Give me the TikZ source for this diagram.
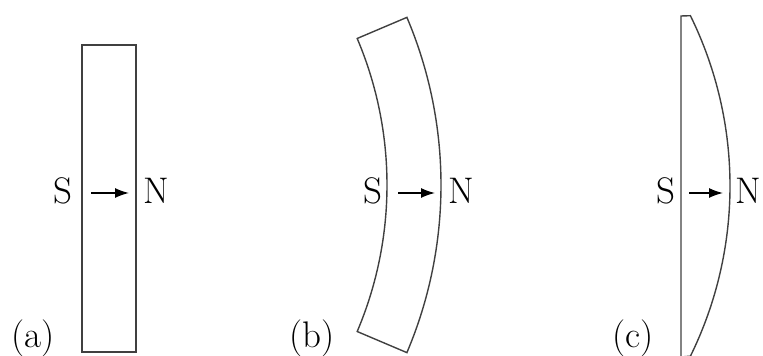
\documentclass[tikz,border=0pt]{standalone}
\usetikzlibrary{arrows.meta}
\begin{document}
\begin{tikzpicture}[x=1pt,y=1pt,
  outline/.style={draw=black!75, line width=1.4pt, line join=miter},
  lbl/.style={font=\fontsize{37}{40}\selectfont, inner sep=0pt, anchor=base},
  magarrow/.style={line width=1.5pt, -{Latex[length=14pt,width=10pt]}}]
\useasboundingbox (0,0) rectangle (763,356);
% (a)
\draw[outline, line width=1.8pt] (82,4) rectangle (136,311);
\node[lbl] (Sa) at (63,152) {S};
\node[lbl] (Na) at (156,152) {N};
\node[lbl] (la) at (33,9) {(a)};
\coordinate (a1) at (91,163);
\coordinate (a2) at (129,163);
\draw[magarrow] (a1) -- (a2);
% (b)
\draw[outline] (12,171) ++(23:375) arc[start angle=23,end angle=-23,radius=375pt]
  -- ++(-23:54) arc[start angle=-23,end angle=23,radius=429pt] -- cycle;
\node[lbl] (Sb) at (373,152) {S};
\node[lbl] (Nb) at (461,152) {N};
\node[lbl] (lb) at (312,9) {(b)};
\coordinate (b1) at (398,163);
\coordinate (b2) at (435,163);
\draw[magarrow] (b1) -- (b2);
% (c)
\draw[outline] (681,-1) -- (681,340) -- (690.4,340.3)
  arc[start angle=26.2,end angle=-26.2,radius=385.6pt] -- cycle;
\node[lbl] (Sc) at (666,152) {S};
\node[lbl, anchor=base west] (Nc) at (735,152) {N};
\node[lbl] (lc) at (633,9) {(c)};
\coordinate (c1) at (689,163);
\coordinate (c2) at (723,163);
\draw[magarrow] (c1) -- (c2);
\end{tikzpicture}
\end{document}
